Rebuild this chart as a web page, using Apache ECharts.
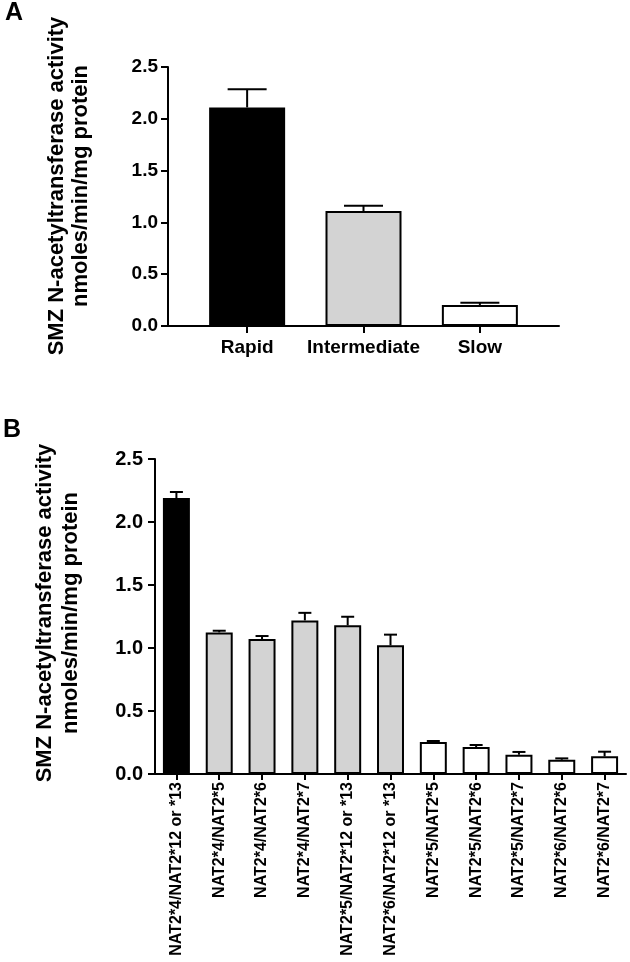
<!DOCTYPE html>
<html><head><meta charset="utf-8">
<script src="https://cdn.jsdelivr.net/npm/echarts@6/dist/echarts.min.js"></script>
<style>html,body{margin:0;padding:0;background:#fff}#c{width:630px;height:962px}</style>
</head><body><div id="c"></div>
<script>
// Panel A data
const categoriesA = ['Rapid', 'Intermediate', 'Slow'];
const meansA = [2.11, 1.11, 0.203];
const semA = [0.175, 0.05, 0.022];
const fillA = ['#000000', '#d3d3d3', '#ffffff'];

// Panel B data
const categoriesB = ['NAT2*4/NAT2*12 or *13', 'NAT2*4/NAT2*5', 'NAT2*4/NAT2*6', 'NAT2*4/NAT2*7',
  'NAT2*5/NAT2*12 or *13', 'NAT2*6/NAT2*12 or *13', 'NAT2*5/NAT2*5', 'NAT2*5/NAT2*6',
  'NAT2*5/NAT2*7', 'NAT2*6/NAT2*6', 'NAT2*6/NAT2*7'];
const meansB = [2.19, 1.124, 1.071, 1.219, 1.18, 1.021, 0.254, 0.214, 0.153, 0.113, 0.14];
const semB = [0.048, 0.013, 0.024, 0.06, 0.068, 0.085, 0.008, 0.016, 0.022, 0.011, 0.037];
const fillB = ['#000000', '#d3d3d3', '#d3d3d3', '#d3d3d3', '#d3d3d3', '#d3d3d3',
  '#ffffff', '#ffffff', '#ffffff', '#ffffff', '#ffffff'];

const yTitle = 'SMZ N-acetyltransferase activity\nnmoles/min/mg protein';
const FONT = '"Liberation Sans", Arial, sans-serif';

function errorRenderer(capHalf, lw) {
  return function (params, api) {
    const x = api.value(0), m = api.value(1), e = api.value(2);
    const p0 = api.coord([x, m]);
    const p1 = api.coord([x, m + e]);
    const st = { stroke: '#000', lineWidth: lw };
    return { type: 'group', children: [
      { type: 'line', shape: { x1: p0[0], y1: p0[1], x2: p1[0], y2: p1[1] }, style: st },
      { type: 'line', shape: { x1: p1[0] - capHalf, y1: p1[1], x2: p1[0] + capHalf, y2: p1[1] }, style: st }
    ]};
  };
}

const lineStyle = { color: '#000', width: 2 };

const chart = echarts.init(document.getElementById('c'), null, { renderer: 'canvas' });
chart.setOption({
  backgroundColor: '#fff',
  animation: false,
  textStyle: { fontFamily: FONT },
  graphic: [
    { type: 'text', left: 5, top: 1, style: { text: 'A', font: 'bold 25px ' + FONT, fill: '#000' } },
    { type: 'text', left: 3, top: 418, style: { text: 'B', font: 'bold 25px ' + FONT, fill: '#000' } },
    { type: 'text', x: 69, y: 186, rotation: Math.PI / 2,
      style: { text: yTitle, font: 'bold 22px ' + FONT, fill: '#000', align: 'center', verticalAlign: 'middle', lineHeight: 24 } },
    { type: 'text', x: 58, y: 613, rotation: Math.PI / 2,
      style: { text: yTitle, font: 'bold 22px ' + FONT, fill: '#000', align: 'center', verticalAlign: 'middle', lineHeight: 26 } }
  ],
  grid: [
    { left: 168, right: 71, top: 67, bottom: 636 },
    { left: 155, right: 4, top: 459, bottom: 188 }
  ],
  xAxis: [
    { type: 'value', gridIndex: 0, min: -0.68, max: 2.68,
      axisLine: { show: true, onZero: false, lineStyle }, splitLine: { show: false },
      axisTick: { show: true, length: 7, lineStyle, customValues: [0, 1, 2] },
      axisLabel: { customValues: [0, 1, 2], formatter: v => categoriesA[Math.round(v)], color: '#000',
        fontWeight: 'bold', fontSize: 19, margin: 12, fontFamily: FONT } },
    { type: 'category', gridIndex: 1, data: categoriesB,
      axisLine: { show: true, onZero: false, lineStyle },
      axisTick: { show: true, alignWithLabel: true, length: 6, lineStyle },
      axisLabel: { interval: 0, rotate: 90, color: '#000', fontWeight: 'bold', fontSize: 16, margin: 8, fontFamily: FONT } }
  ],
  yAxis: [
    { type: 'value', gridIndex: 0, min: 0, max: 2.5, interval: 0.5,
      axisLine: { show: true, onZero: false, lineStyle }, splitLine: { show: false },
      axisTick: { show: true, length: 7, lineStyle },
      axisLabel: { formatter: v => v.toFixed(1), color: '#000', fontWeight: 'bold', fontSize: 19, margin: 10, fontFamily: FONT } },
    { type: 'value', gridIndex: 1, min: 0, max: 2.5, interval: 0.5,
      axisLine: { show: true, onZero: false, lineStyle }, splitLine: { show: false },
      axisTick: { show: true, length: 7, lineStyle },
      axisLabel: { formatter: v => v.toFixed(1), color: '#000', fontWeight: 'bold', fontSize: 20, margin: 12, fontFamily: FONT } }
  ],
  series: [
    { type: 'bar', xAxisIndex: 0, yAxisIndex: 0, barWidth: 76,
      data: meansA.map((m, i) => ({ value: [i, m], itemStyle: { color: fillA[i], borderColor: '#000', borderWidth: 2 } })) },
    { type: 'custom', xAxisIndex: 0, yAxisIndex: 0, z: 5,
      renderItem: errorRenderer(19.5, 2),
      data: meansA.map((m, i) => [i, m, semA[i]]) },
    { type: 'bar', xAxisIndex: 1, yAxisIndex: 1, barCategoryGap: '37%',
      data: meansB.map((m, i) => ({ value: m, itemStyle: { color: fillB[i], borderColor: '#000', borderWidth: 2 } })) },
    { type: 'custom', xAxisIndex: 1, yAxisIndex: 1, z: 5,
      renderItem: errorRenderer(6.5, 2),
      data: meansB.map((m, i) => [i, m, semB[i]]) }
  ]
});
</script>
</body></html>
